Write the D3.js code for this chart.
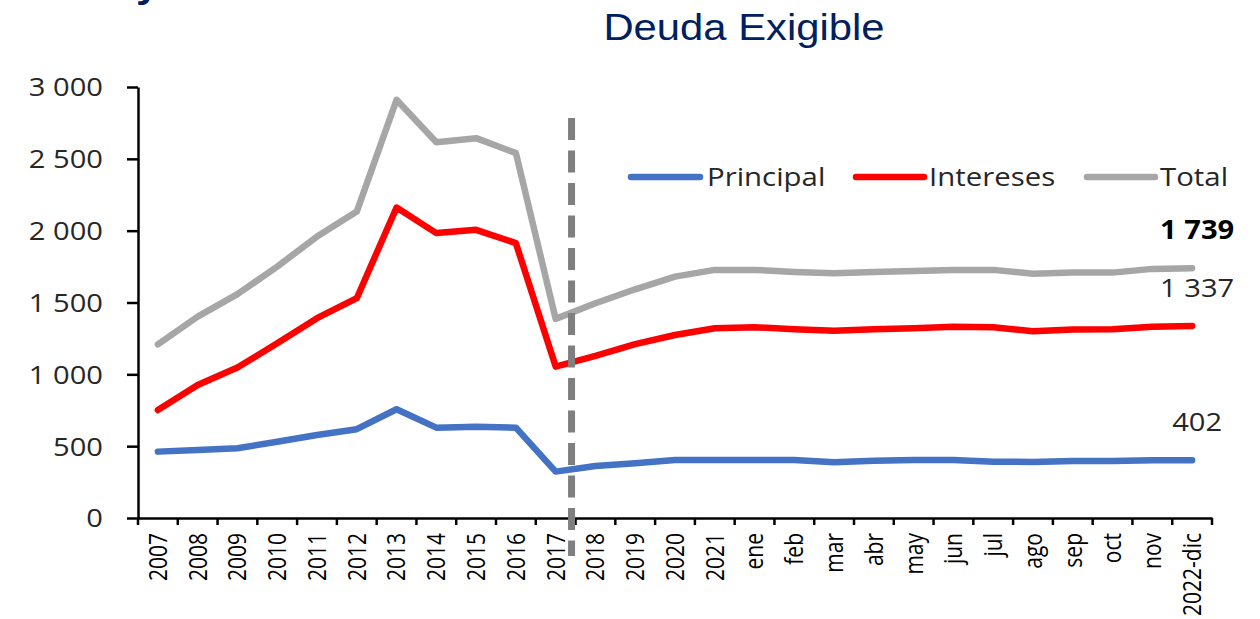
<!DOCTYPE html>
<html><head><meta charset="utf-8">
<script src="https://cdn.jsdelivr.net/npm/d3@7"></script>
<style>html,body{margin:0;padding:0;background:#fff;} svg{display:block;}</style>
</head><body><svg id="chart" width="1260" height="619"></svg>
<script>
const categories = ["2007","2008","2009","2010","2011","2012","2013","2014","2015","2016","2017","2018","2019","2020","2021","ene","feb","mar","abr","may","jun","jul","ago","sep","oct","nov","2022-dic"];
const principal = [462,474,485,531,578,618,757,629,636,629,323,362,381,404,404,404,403,388,398,404,404,392,390,396,397,402,402];
const intereses = [752,926,1047,1216,1391,1530,2161,1983,2006,1913,1054,1128,1210,1274,1321,1328,1314,1304,1314,1321,1332,1328,1300,1312,1314,1332,1337];
const total = [1209,1402,1558,1750,1959,2133,2911,2616,2644,2540,1386,1495,1592,1680,1727,1727,1713,1704,1713,1720,1727,1727,1700,1708,1708,1734,1739];
const yTicks = [0,500,1000,1500,2000,2500,3000];
const seriesNames = ["Principal","Intereses","Total"];
const seriesColors = ["#4472C4","#FF0000","#A6A6A6"];
const titleText = "Deuda Exigible";
const separatorAfter = "2017";

const svg = d3.select("#chart");
svg.append("rect").attr("width",1260).attr("height",619).attr("fill","#fff");

const x = d3.scaleBand().domain(categories).range([138,1212]).padding(0);
const y = d3.scaleLinear().domain([0,3000]).range([518,87]);
const cx = c => x(c) + x.bandwidth()/2;
const fmt = v => d3.format(",")(v).replace(/,/g," ");
const textColor = "#262626";
const FONT = "'Open Sans', 'Noto Sans', sans-serif";

// title
svg.append("text").text(titleText)
  .attr("transform","translate(744,40) scale(1.13,1)")
  .attr("text-anchor","middle")
  .attr("font-family","'Liberation Sans', Arial, sans-serif")
  .attr("font-size",37).attr("fill","#002060");
// cut-off glyph of upper title
svg.append("text").text("y")
  .attr("transform","translate(136,-3) scale(1.13,1)")
  .attr("font-family","'Liberation Sans', Arial, sans-serif")
  .attr("font-weight","bold")
  .attr("font-size",37).attr("fill","#002060");

// y axis
const yAxis = d3.axisLeft(y).tickValues(yTicks).tickSize(11).tickSizeOuter(0).tickFormat("");
const gy = svg.append("g").attr("transform","translate(138,0)").call(yAxis);
gy.selectAll("path,line").attr("stroke","#000").attr("stroke-width",2.5);
svg.append("g").selectAll("text").data(yTicks).join("text")
  .text(d => fmt(d))
  .attr("transform", d => `translate(103,${y(d)}) scale(1.12,1)`)
  .attr("dy","0.36em")
  .attr("text-anchor","end")
  .attr("font-family",FONT).attr("font-size",26).attr("fill",textColor);

// x axis
const xAxis = d3.axisBottom(x).tickSize(0).tickSizeOuter(0).tickFormat("");
const gx = svg.append("g").attr("transform","translate(0,518)").call(xAxis);
gx.select("path.domain").attr("stroke","#000").attr("stroke-width",2.5);
const bounds = categories.map(c => x(c)).concat([x.range()[1]]);
svg.append("g").selectAll("line").data(bounds).join("line")
  .attr("x1",d=>d).attr("x2",d=>d).attr("y1",518).attr("y2",525)
  .attr("stroke","#000").attr("stroke-width",2.5);
svg.append("g").selectAll("text").data(categories).join("text")
  .text(d=>d)
  .attr("transform", d => `translate(${cx(d)},533) rotate(-90) scale(1,1.18)`)
  .attr("text-anchor","end")
  .attr("dy","0.36em")
  .attr("font-family",FONT).attr("font-size",21).attr("fill","#000");

// series
const seriesData = [principal, intereses, total];
const line = d3.line().x((d,i)=>cx(categories[i])).y(d=>y(d)).curve(d3.curveLinear);
seriesData.forEach((s,k) => {
  svg.append("path").datum(s)
    .attr("d",line)
    .attr("fill","none")
    .attr("stroke",seriesColors[k])
    .attr("stroke-width",6.5)
    .attr("stroke-linejoin","round")
    .attr("stroke-linecap","round");
});

// separator dashed line
const sepX = x(categories[categories.indexOf(separatorAfter)+1]) - 4;
svg.append("line")
  .attr("x1",sepX).attr("x2",sepX)
  .attr("y1",y(2785)).attr("y2",y(0)+38)
  .attr("stroke","#7F7F7F").attr("stroke-width",7)
  .attr("stroke-dasharray","22 10.5");

// data labels for last point
const last = categories[categories.length-1];
const labels = [
  {v: total[total.length-1], bold: true},
  {v: intereses[intereses.length-1], bold: false},
  {v: principal[principal.length-1], bold: false}
];
svg.append("g").selectAll("text").data(labels).join("text")
  .text(d => fmt(d.v))
  .attr("transform", d => `translate(${cx(last)+5},${y(d.v)-29}) scale(1.12,1)`)
  .attr("text-anchor","middle")
  .attr("font-family",FONT).attr("font-size",26)
  .attr("font-weight", d => d.bold ? "bold" : "normal")
  .attr("fill", d => d.bold ? "#000" : textColor);

// legend
const legendItems = [
  {name: seriesNames[0], color: seriesColors[0], x0: 631, x1: 700, tx: 707},
  {name: seriesNames[1], color: seriesColors[1], x0: 856, x1: 924, tx: 929},
  {name: seriesNames[2], color: seriesColors[2], x0: 1087, x1: 1155, tx: 1160}
];
const lg = svg.append("g");
legendItems.forEach(it => {
  lg.append("line").attr("x1",it.x0).attr("x2",it.x1).attr("y1",177).attr("y2",177)
    .attr("stroke",it.color).attr("stroke-width",6.5).attr("stroke-linecap","round");
  lg.append("text").text(it.name)
    .attr("transform",`translate(${it.tx},186) scale(1.13,1)`)
    .attr("font-family",FONT).attr("font-size",26).attr("fill",textColor);
});
</script>
</body></html>
